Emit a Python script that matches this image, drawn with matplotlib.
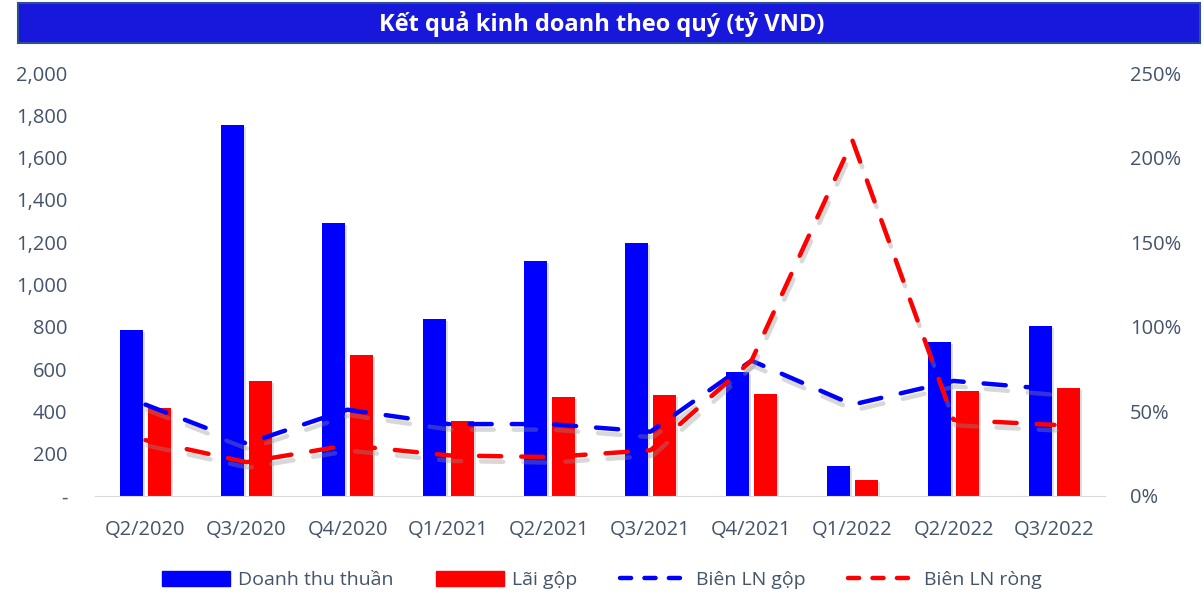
import numpy as np
import matplotlib.pyplot as plt
import matplotlib.patheffects as pe
from matplotlib.patches import Rectangle
from matplotlib.lines import Line2D
from matplotlib.ticker import FuncFormatter

quarters = ['Q2/2020', 'Q3/2020', 'Q4/2020', 'Q1/2021', 'Q2/2021',
            'Q3/2021', 'Q4/2021', 'Q1/2022', 'Q2/2022', 'Q3/2022']
doanh_thu = [785, 1754, 1291, 837, 1111, 1196, 586, 142, 728, 804]
lai_gop = [416, 544, 667, 355, 468, 478, 482, 76, 496, 511]
bien_gop = [54, 31, 51, 42.5, 42.5, 38, 80, 54, 68, 63]
bien_rong = [33, 20, 30, 24, 23, 27, 80, 210, 45, 42]

txt_col = '#44546A'
plt.rcParams['font.family'] = ['Open Sans', 'DejaVu Sans']

fig = plt.figure(figsize=(12.04, 5.98), dpi=100)
ax = fig.add_axes([0.0789, 0.1706, 0.8389, 0.7073])
ax2 = ax.twinx()

x = np.arange(len(quarters))
w = 0.225
bar_shadow = [pe.SimplePatchShadow(offset=(1.5, -1.5), shadow_rgbFace='#999999', alpha=0.3),
              pe.Normal()]
ax.bar(x - 0.14, doanh_thu, w, color='#0000FF', zorder=2, path_effects=bar_shadow)
ax.bar(x + 0.14, lai_gop, w, color='#FF0000', zorder=2, path_effects=bar_shadow)

shadow = [pe.SimpleLineShadow(offset=(1.5, -4), shadow_color='#909090', alpha=0.35),
          pe.Normal()]
ax2.plot(x, bien_gop, color='#0000FF', lw=3.2, dashes=(5, 4.5),
         dash_capstyle='round', path_effects=shadow)
ax2.plot(x, bien_rong, color='#FF0000', lw=3.2, dashes=(5, 4.5),
         dash_capstyle='round', path_effects=shadow)

ax.set_xlim(-0.5, len(quarters) - 0.5)
ax.set_ylim(0, 2000)
ax2.set_ylim(0, 250)
ax.set_yticks(range(0, 2001, 200))
ax2.set_yticks(range(0, 251, 50))
ax.yaxis.set_major_formatter(FuncFormatter(lambda v, p: '-' if v == 0 else f'{v:,.0f}'))
ax2.yaxis.set_major_formatter(FuncFormatter(lambda v, p: f'{v:.0f}%'))
ax.set_xticks(x)
ax.set_xticklabels(quarters)

for a in (ax, ax2):
    for s in a.spines.values():
        s.set_visible(False)
    a.tick_params(length=0, labelsize=14.5, labelcolor=txt_col)
ax.spines['bottom'].set_visible(True)
ax.spines['bottom'].set_color('#D9D9D9')
ax.tick_params(axis='x', pad=17)
ax.tick_params(axis='y', pad=20)
ax2.tick_params(axis='y', pad=18)

# title bar
fig.patches.append(Rectangle((18 / 1204, 1 - 43 / 598), 1182 / 1204, 40 / 598,
                             transform=fig.transFigure, facecolor='#1818DC',
                             edgecolor='#2F4F8F', lw=1.5))
fig.text(0.5, 1 - 24 / 598, 'Kết quả kinh doanh theo quý (tỷ VND)', color='white',
         fontsize=17, fontweight='bold', ha='center', va='center')

handles = [Rectangle((0, 0), 1, 1, color='#0000FF'),
           Rectangle((0, 0), 1, 1, color='#FF0000'),
           Line2D([], [], color='#0000FF', lw=3.2, dashes=(2.5, 3), dash_capstyle='round'),
           Line2D([], [], color='#FF0000', lw=3.2, dashes=(2.5, 3), dash_capstyle='round')]
labels = ['Doanh thu thuần', 'Lãi gộp', 'Biên LN gộp', 'Biên LN ròng']
leg = fig.legend(handles, labels, loc='center', bbox_to_anchor=(0.5, 1 - 580 / 598),
                 ncol=4, frameon=False, fontsize=14, handlelength=3.5,
                 handleheight=0.8, columnspacing=2.2, handletextpad=0.4)
for t in leg.get_texts():
    t.set_color(txt_col)

fig.savefig('out.png', dpi=100)
